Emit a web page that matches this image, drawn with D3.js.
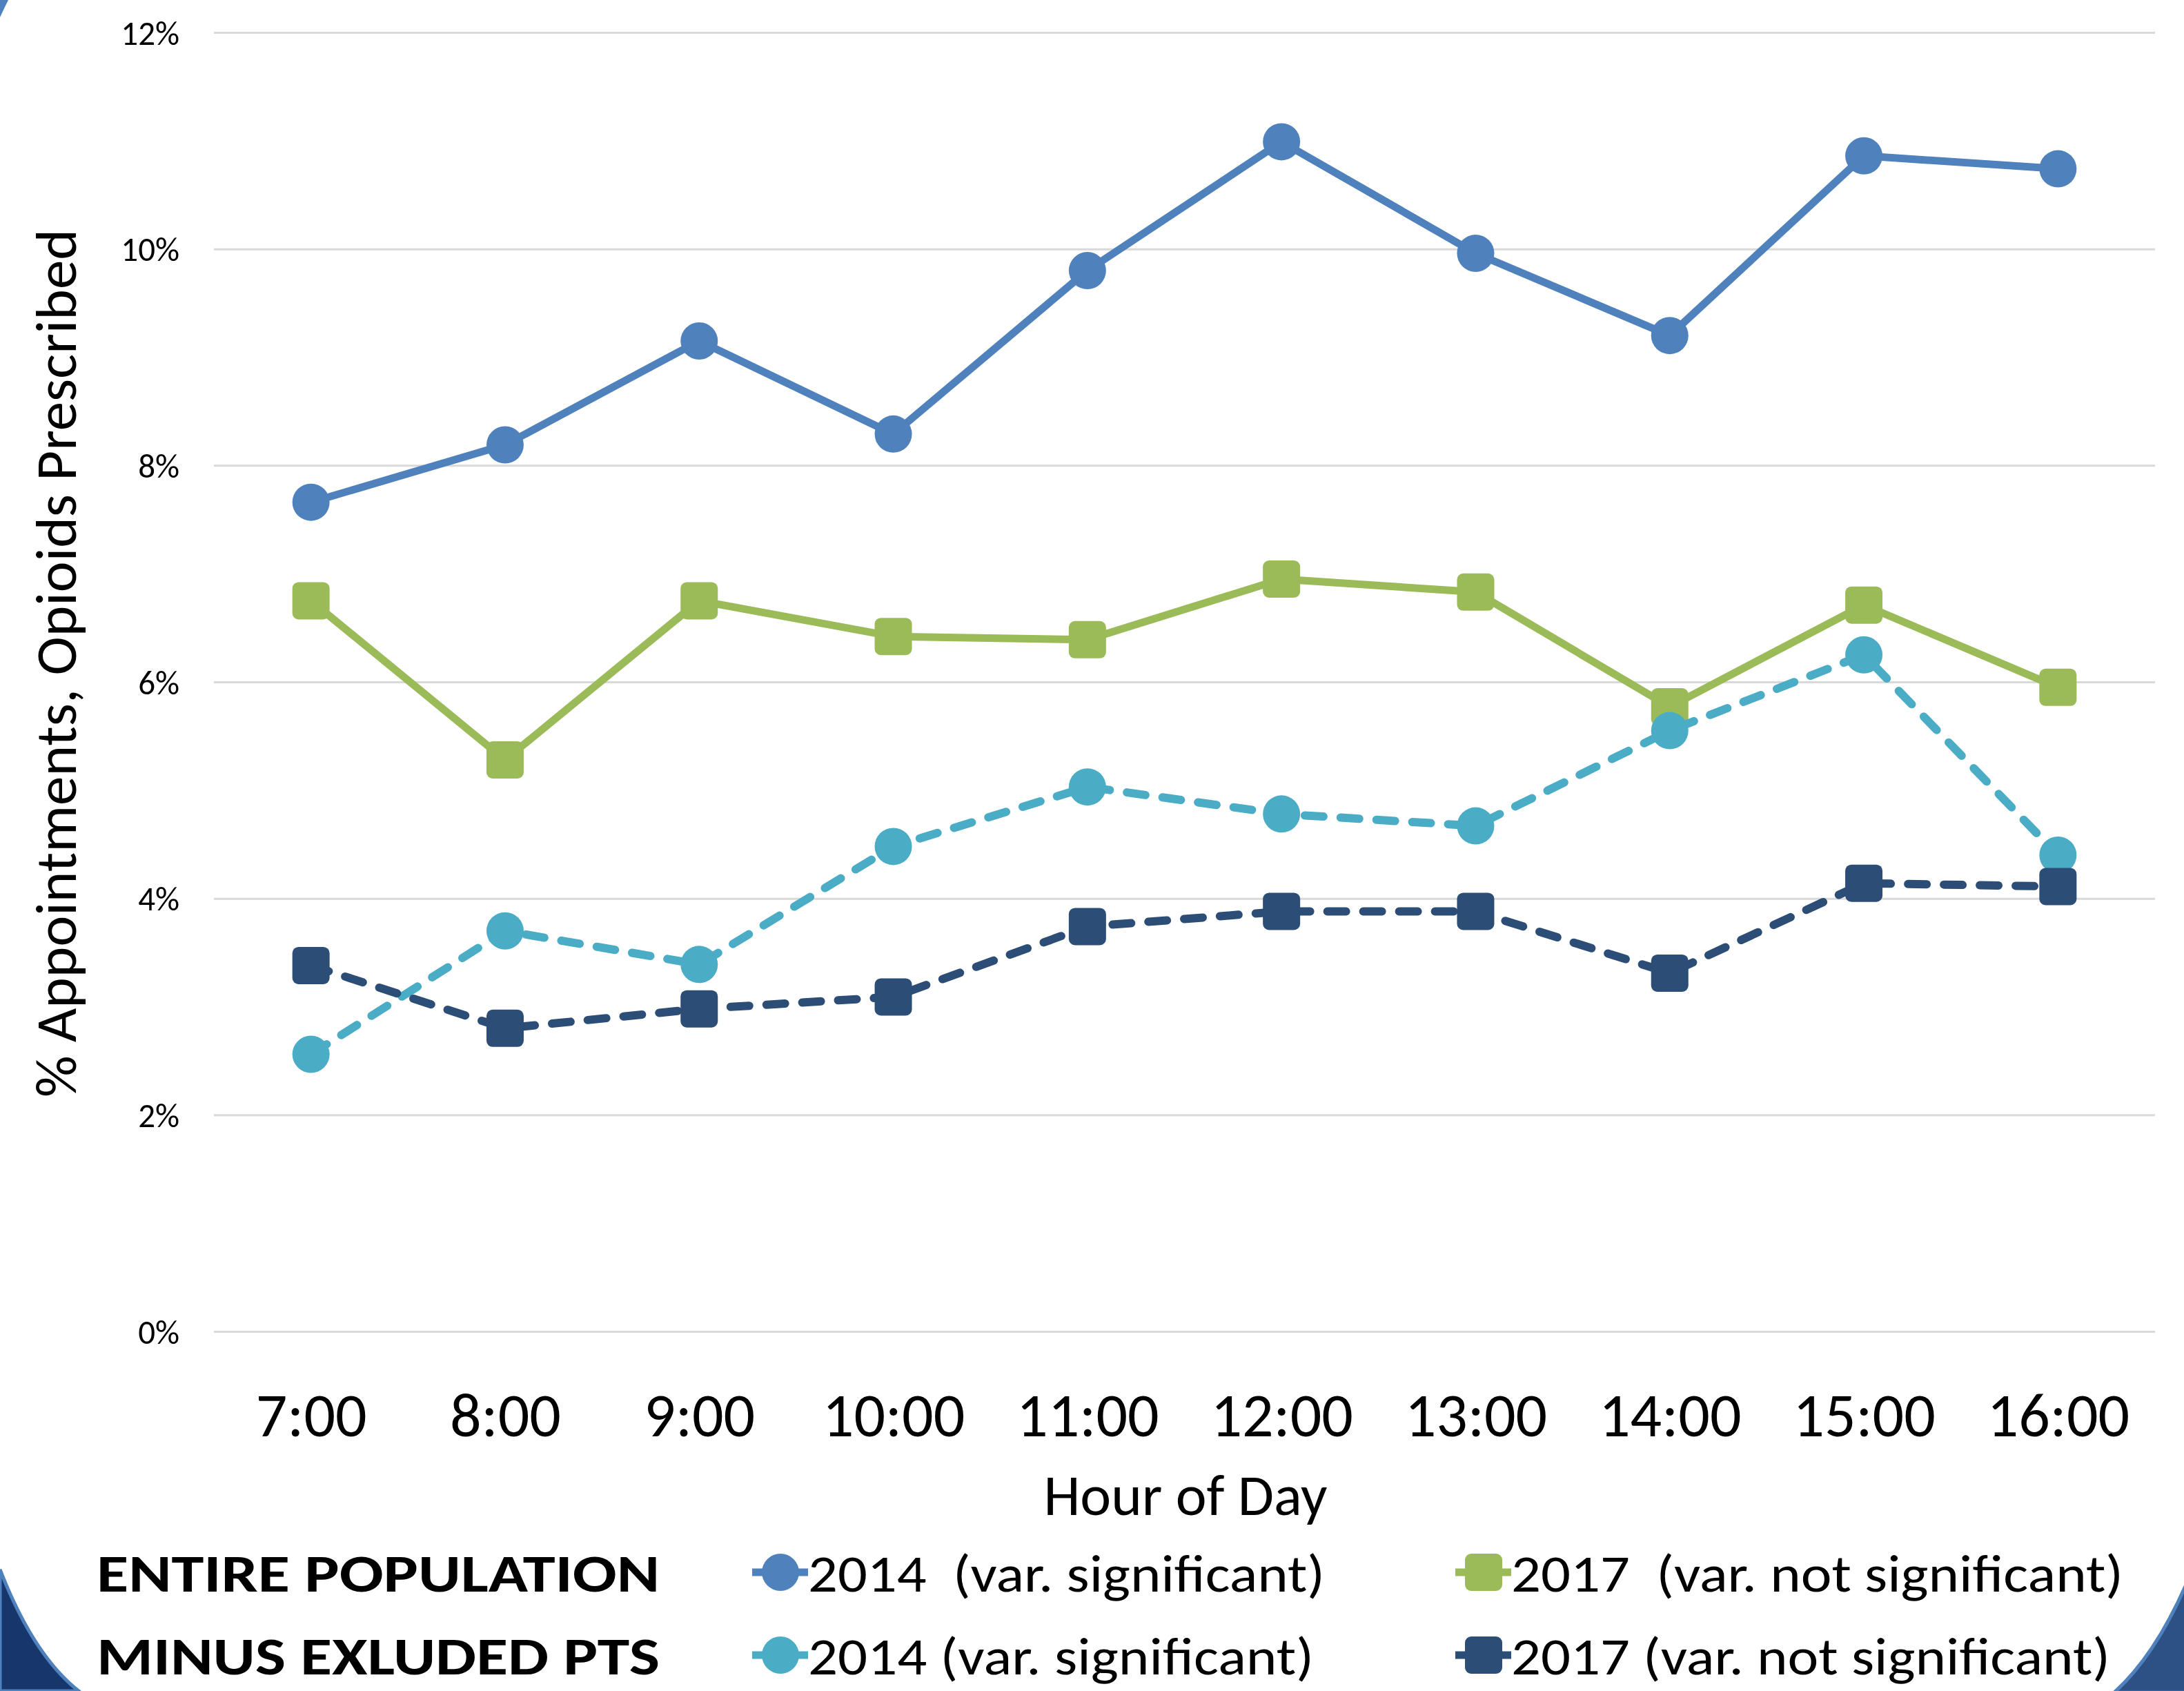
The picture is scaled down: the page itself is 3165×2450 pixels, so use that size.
<!DOCTYPE html>
<html>
<head>
  <meta charset="utf-8">
  <title>Opioids prescribed by hour of day</title>
  <style>
    body { margin: 0; background: #fff; }
    text { font-family: Carlito, Calibri, Lato, "Open Sans", sans-serif; fill: #000; white-space: pre; }
  </style>
</head>
<body>
  <svg width="3165" height="2450"></svg>
  <script src="https://d3js.org/d3.v7.min.js"></script>
  <script>
  // data (percent of appointments)
  var hours = ["7:00", "8:00", "9:00", "10:00", "11:00", "12:00", "13:00", "14:00", "15:00", "16:00"];
  var entire2014 = [7.66, 8.19, 9.15, 8.29, 9.80, 10.99, 9.96, 9.20, 10.86, 10.74];
  var entire2017 = [6.75, 5.28, 6.75, 6.42, 6.39, 6.95, 6.83, 5.77, 6.71, 5.95];
  var minus2014 = [2.56, 3.70, 3.39, 4.48, 5.03, 4.78, 4.67, 5.55, 6.25, 4.40];
  var minus2017 = [3.38, 2.80, 2.98, 3.09, 3.74, 3.88, 3.88, 3.31, 4.14, 4.11];
  var yTicks = [0, 2, 4, 6, 8, 10, 12];
  var seriesNames = ["2014  (var. significant)", "2017  (var. not significant)",
                     "2014 (var. significant)", "2017 (var. not significant)"];
  var groupLabels = ["ENTIRE POPULATION", "MINUS EXLUDED PTS"];

  var series = [
    { name: seriesNames[0], values: entire2014, color: "#4F81BD", shape: "circle", dash: null },
    { name: seriesNames[1], values: entire2017, color: "#9BBB59", shape: "square", dash: null },
    { name: seriesNames[2], values: minus2014, color: "#4BACC6", shape: "circle", dash: "27,25" },
    { name: seriesNames[3], values: minus2017, color: "#2C4D75", shape: "square", dash: "27,25" }
  ];

  var svg = d3.select("svg");

  // slide corner decoration
  svg.append("path").attr("d", "M0,0 L12,0 Q6,12 0,25 Z").attr("fill", "#4F81BD");
  svg.append("path").attr("d", "M0,2274 Q48,2398 114,2450 L0,2450 Z")
    .attr("fill", "#17376C").attr("stroke", "#4F81BD").attr("stroke-width", 5);
  svg.append("path").attr("d", "M3168,2296 Q3122,2400 3064,2452 L3168,2452 Z")
    .attr("fill", "#2D5085").attr("stroke", "#4F81BD").attr("stroke-width", 5);

  var plotLeft = 310, plotRight = 3123, plotTop = 47, plotBottom = 1929;

  var x = d3.scalePoint().domain(hours).range([plotLeft, plotRight]).padding(0.5);
  var y = d3.scaleLinear().domain([0, 12]).range([plotBottom, plotTop]);

  // y axis + gridlines
  var yAxis = svg.append("g")
    .attr("transform", "translate(" + plotLeft + ",0)")
    .call(d3.axisLeft(y).tickValues(yTicks).tickSizeInner(-(plotRight - plotLeft)).tickSizeOuter(0)
      .tickPadding(50).tickFormat(function(d) { return d + "%"; }));
  yAxis.select(".domain").remove();
  yAxis.selectAll("line").attr("stroke", "#D9D9D9").attr("stroke-width", 3);
  yAxis.selectAll("text").attr("font-size", 49).attr("dy", "0.35em");

  // x axis
  var xAxis = svg.append("g")
    .attr("transform", "translate(0," + plotBottom + ")")
    .call(d3.axisBottom(x).tickSize(0).tickPadding(88));
  xAxis.select(".domain").remove();
  xAxis.selectAll("text").attr("font-size", 90);

  // axis titles
  svg.append("text")
    .attr("transform", "translate(110,961) rotate(-90)")
    .attr("text-anchor", "middle")
    .attr("font-size", 85)
    .text("% Appointments, Opioids Prescribed");

  svg.append("text")
    .attr("x", 1718).attr("y", 2195)
    .attr("text-anchor", "middle")
    .attr("font-size", 85)
    .text("Hour of Day");

  var line = d3.line()
    .x(function(d, i) { return x(hours[i]); })
    .y(function(d) { return y(d); });

  function drawMarker(g, shape, color) {
    if (shape === "circle") {
      g.append("circle").attr("r", 27).attr("fill", color);
    } else {
      g.append("rect").attr("x", -27).attr("y", -27).attr("width", 54).attr("height", 54)
        .attr("rx", 9).attr("fill", color);
    }
  }

  // series
  series.forEach(function(s) {
    var g = svg.append("g");
    g.append("path")
      .datum(s.values)
      .attr("d", line)
      .attr("fill", "none")
      .attr("stroke", s.color)
      .attr("stroke-width", s.dash ? 12 : 11)
      .attr("stroke-linejoin", "round")
      .attr("stroke-linecap", s.dash ? "round" : "butt")
      .attr("stroke-dasharray", s.dash);
    g.selectAll("g.pt")
      .data(s.values)
      .enter()
      .append("g")
      .attr("class", "pt")
      .attr("transform", function(d, i) { return "translate(" + x(hours[i]) + "," + y(d) + ")"; })
      .each(function() { drawMarker(d3.select(this), s.shape, s.color); });
  });

  // legend
  var colX = [1131, 2150], rowY = [2278, 2398];
  var labelWidths = [749, 887, 733, 868];
  groupLabels.forEach(function(t, r) {
    svg.append("text")
      .attr("x", 140).attr("y", rowY[r] + 28)
      .attr("font-size", 76).attr("font-weight", "bold")
      .attr("textLength", 816).attr("lengthAdjust", "spacingAndGlyphs")
      .text(t);
  });
  series.forEach(function(s, i) {
    var cx = colX[i % 2], cy = rowY[Math.floor(i / 2)];
    var g = svg.append("g").attr("transform", "translate(" + cx + "," + cy + ")");
    g.append("line").attr("x1", -41).attr("x2", 40)
      .attr("stroke", s.color).attr("stroke-width", 11);
    drawMarker(g, s.shape, s.color);
    svg.append("text")
      .attr("x", cx + 40).attr("y", cy + 28)
      .attr("font-size", 76)
      .attr("textLength", labelWidths[i]).attr("lengthAdjust", "spacingAndGlyphs")
      .text(s.name);
  });
  </script>
</body>
</html>
